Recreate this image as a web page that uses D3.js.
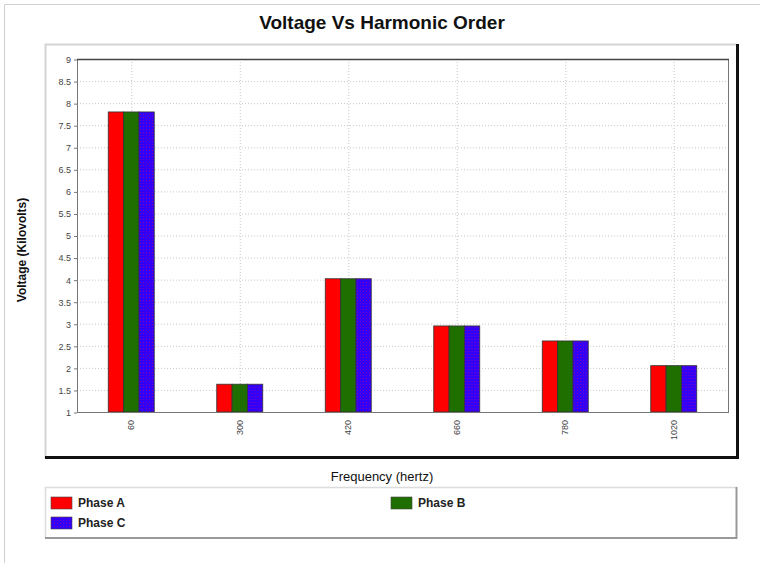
<!DOCTYPE html>
<html>
  <head>
  <title>Voltage Vs Harmonic Order</title>
  <style>
    body, html {
      margin: 0;
      padding: 0;
      background: #fff;
    }
    text {
      font-family: "Liberation Sans", Arial, sans-serif;
    }
  </style>
  </head>
  <body>

  <svg id="svg" width="763" height="564"></svg>

  <script src="https://d3js.org/d3.v7.min.js"></script>
  <script>
    // values
    const frequencies = ['60', '300', '420', '660', '780', '1020']
    const phaseA = [7.8, 1.63, 4.02, 2.95, 2.61, 2.05]
    const phaseB = [7.8, 1.63, 4.02, 2.95, 2.61, 2.05]
    const phaseC = [7.8, 1.63, 4.02, 2.95, 2.61, 2.05]
    const seriesNames = ['Phase A', 'Phase B', 'Phase C']
    const yTicks = [1, 1.5, 2, 2.5, 3, 3.5, 4, 4.5, 5, 5.5, 6, 6.5, 7, 7.5, 8, 8.5, 9]

    const seriesValues = [phaseA, phaseB, phaseC]
    const colors = ['#ff0000', '#1f6e00', 'url(#blueDots)']

    const svg = d3.select('#svg')

    // dithered blue fill like the original
    const pat = svg.append('defs').append('pattern')
      .attr('id', 'blueDots')
      .attr('width', 3).attr('height', 3)
      .attr('patternUnits', 'userSpaceOnUse')
    pat.append('rect').attr('width', 3).attr('height', 3).attr('fill', '#2a00ff')
    pat.append('rect').attr('width', 1).attr('height', 1).attr('fill', '#8a00b0')
    pat.append('rect').attr('x', 1.5).attr('y', 1.5).attr('width', 1).attr('height', 1).attr('fill', '#5a00d8')

    // outer frame
    svg.append('path')
      .attr('d', 'M4.5,563 V4.5 H760')
      .attr('fill', 'none').attr('stroke', '#cfcfcf')

    svg.append('text')
      .attr('x', 382).attr('y', 29)
      .attr('text-anchor', 'middle')
      .attr('font-size', 19).attr('font-weight', 'bold')
      .attr('fill', '#111')
      .text('Voltage Vs Harmonic Order')

    // chart panel
    svg.append('rect')
      .attr('x', 45).attr('y', 44).attr('width', 692).attr('height', 414)
      .attr('fill', '#fff')
    svg.append('path')
      .attr('d', 'M45.5,458 V44.5 H737')
      .attr('fill', 'none').attr('stroke', '#d4d4d4').attr('stroke-width', 2)
    svg.append('path')
      .attr('d', 'M45,457.5 H737.5 V44')
      .attr('fill', 'none').attr('stroke', '#111').attr('stroke-width', 3)

    const plot = { left: 77, right: 728, top: 59, bottom: 412 }

    const xscale = d3.scaleBand()
      .domain(frequencies)
      .range([plot.left, plot.right])
    const groupWidth = 46
    const xinner = d3.scaleBand()
      .domain(seriesNames)
      .range([(xscale.bandwidth() - groupWidth) / 2, (xscale.bandwidth() + groupWidth) / 2])
    const yscale = d3.scaleLinear()
      .domain([1, 9])
      .range([plot.bottom, plot.top])

    // grid
    const grid = svg.append('g')
      .attr('stroke', '#c8c8c8').attr('stroke-dasharray', '1,2')
    grid.selectAll('line.h')
      .data(yTicks.filter(d => d > 1 && d < 9))
      .enter().append('line')
      .attr('class', 'h')
      .attr('x1', plot.left).attr('x2', plot.right)
      .attr('y1', d => yscale(d) + 0.5).attr('y2', d => yscale(d) + 0.5)
    grid.selectAll('line.v')
      .data(frequencies)
      .enter().append('line')
      .attr('class', 'v')
      .attr('x1', d => xscale(d) + xscale.bandwidth() / 2 + 0.5)
      .attr('x2', d => xscale(d) + xscale.bandwidth() / 2 + 0.5)
      .attr('y1', plot.top).attr('y2', plot.bottom)

    // bars
    const groups = svg.append('g')
      .selectAll('g')
      .data(frequencies)
      .enter().append('g')
      .attr('transform', d => `translate(${xscale(d)},0)`)
    groups.selectAll('rect')
      .data((d, i) => seriesNames.map((s, j) => ({ s, j, v: seriesValues[j][i] })))
      .enter().append('rect')
      .attr('x', d => xinner(d.s))
      .attr('y', d => yscale(d.v))
      .attr('width', xinner.bandwidth())
      .attr('height', d => yscale(1) - yscale(d.v))
      .attr('fill', d => colors[d.j])
      .attr('stroke', '#333').attr('stroke-width', 0.8)

    // plot border
    svg.append('rect')
      .attr('x', plot.left + 0.5).attr('y', plot.top + 0.5)
      .attr('width', plot.right - plot.left).attr('height', plot.bottom - plot.top)
      .attr('fill', 'none').attr('stroke', '#777')
    svg.append('line')
      .attr('x1', plot.left).attr('x2', plot.right + 1)
      .attr('y1', plot.top + 0.5).attr('y2', plot.top + 0.5)
      .attr('stroke', '#444').attr('stroke-width', 1.5)

    const leftAxis = d3.axisLeft(yscale)
      .tickValues(yTicks)
      .tickFormat(d3.format('~g'))
      .tickSize(3)
    const yAxis = svg.append('g')
      .attr('transform', `translate(${plot.left}, 0.5)`)
      .call(leftAxis)
    yAxis.select('.domain').remove()
    yAxis.selectAll('line').attr('stroke', '#777')
    yAxis.selectAll('text')
      .attr('font-size', 9).attr('fill', '#444')
      .attr('font-family', '"Liberation Sans", Arial, sans-serif')

    const bottomAxis = d3.axisBottom(xscale).tickSize(0)
    const xAxis = svg.append('g')
      .attr('transform', `translate(0, ${plot.bottom})`)
      .call(bottomAxis)
    xAxis.select('.domain').remove()
    xAxis.selectAll('text')
      .attr('transform', 'rotate(-90)')
      .attr('text-anchor', 'end')
      .attr('x', -8).attr('y', 0).attr('dy', '0.32em')
      .attr('font-size', 9).attr('fill', '#444')
      .attr('font-family', '"Liberation Sans", Arial, sans-serif')

    svg.append('text')
      .attr('transform', 'translate(26, 250) rotate(-90)')
      .attr('text-anchor', 'middle')
      .attr('font-size', 12).attr('font-weight', 'bold')
      .attr('fill', '#111')
      .text('Voltage (Kilovolts)')

    svg.append('text')
      .attr('x', 382).attr('y', 481)
      .attr('text-anchor', 'middle')
      .attr('font-size', 13)
      .attr('fill', '#111')
      .text('Frequency (hertz)')

    // legend
    svg.append('path')
      .attr('d', 'M45.5,538 V487.5 H737')
      .attr('fill', 'none').attr('stroke', '#dcdcdc').attr('stroke-width', 1.5)
    svg.append('path')
      .attr('d', 'M45,538 H736.5 V487')
      .attr('fill', 'none').attr('stroke', '#999').attr('stroke-width', 2)

    const legendPos = [[51, 497], [391, 497], [51, 517]]
    const legend = svg.append('g')
      .selectAll('g')
      .data(seriesNames)
      .enter().append('g')
      .attr('transform', (d, i) => `translate(${legendPos[i][0]},${legendPos[i][1]})`)
    legend.append('rect')
      .attr('width', 21).attr('height', 12)
      .attr('fill', (d, i) => colors[i])
      .attr('stroke', '#444').attr('stroke-width', 0.6)
    legend.append('text')
      .attr('x', 27).attr('y', 10)
      .attr('font-size', 12).attr('font-weight', 'bold')
      .attr('fill', '#222')
      .text(d => d)
  </script>
  </body>
</html>
